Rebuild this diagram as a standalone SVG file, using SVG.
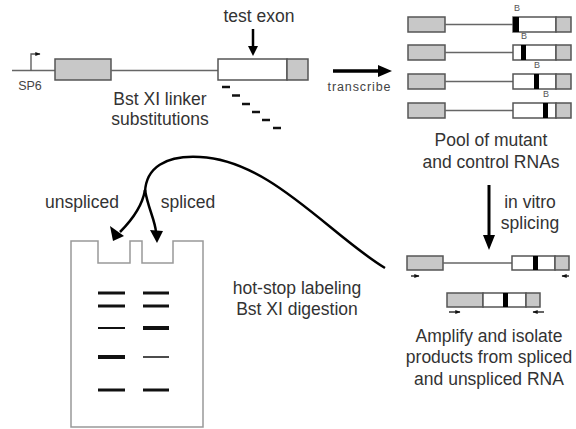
<svg xmlns="http://www.w3.org/2000/svg" width="576" height="429" viewBox="0 0 576 429">
<defs>
<style>
.t{font-family:"Liberation Sans",Arial,sans-serif;font-size:17.5px;fill:#333;text-anchor:middle}
.s{font-family:"Liberation Sans",Arial,sans-serif;font-size:12.5px;fill:#444;text-anchor:middle}
.b{font-family:"Liberation Sans",Arial,sans-serif;font-size:9px;fill:#555;text-anchor:middle}
.g{fill:#c8c8c8;stroke:#555;stroke-width:1.5}
.w{fill:#fff;stroke:#555;stroke-width:1.5}
.ln{stroke:#666;stroke-width:1.5;fill:none}
.bar{fill:#000}
.dash{stroke:#111;stroke-width:2.5}
.band{stroke:#111}
.gel{fill:#fff;stroke:#999;stroke-width:1.5}
.curve{fill:none;stroke:#000;stroke-width:2.5}
</style>
<marker id="sa" viewBox="0 0 10 10" refX="9" refY="5" markerWidth="4" markerHeight="4" orient="auto" markerUnits="strokeWidth">
<path d="M0,1 L10,5 L0,9 z" fill="#111"/>
</marker>
</defs>
<rect width="576" height="429" fill="#fff"/>

<g id="construct">
<line class="ln" x1="12" y1="70.5" x2="55" y2="70.5"/>
<path d="M31,70.5 V54 H40" fill="none" stroke="#555" stroke-width="1.3" marker-end="url(#sa)"/>
<text class="s" x="30" y="90">SP6</text>
<rect class="g" x="55" y="59" width="56" height="21"/>
<line class="ln" x1="111" y1="70.5" x2="218" y2="70.5"/>
<rect class="w" x="218" y="59" width="69" height="21"/>
<rect class="g" x="287" y="59" width="21" height="21"/>
<text class="t" x="259" y="22">test exon</text>
<line x1="253" y1="29" x2="253" y2="48" stroke="#000" stroke-width="2.5"/>
<path d="M248,46 L258,46 L253,56 z" fill="#000"/>
<line class="dash" x1="222" y1="87" x2="230" y2="87"/>
<line class="dash" x1="232" y1="95.5" x2="240" y2="95.5"/>
<line class="dash" x1="242" y1="104" x2="250" y2="104"/>
<line class="dash" x1="252" y1="112" x2="260" y2="112"/>
<line class="dash" x1="262" y1="120" x2="270" y2="120"/>
<line class="dash" x1="273" y1="128" x2="281" y2="128"/>
<text class="t" x="160" y="105">Bst XI linker</text>
<text class="t" x="160" y="125">substitutions</text>
</g>

<g id="transcribe">
<line x1="333" y1="71" x2="380" y2="71" stroke="#000" stroke-width="3.5"/>
<path d="M378,65 L392,71 L378,77 z" fill="#000"/>
<text class="s" x="359" y="91" textLength="63" lengthAdjust="spacing">transcribe</text>
</g>

<g id="pool">
<rect class="g" x="408" y="17" width="37" height="15"/>
<line class="ln" x1="445" y1="24.5" x2="513" y2="24.5"/>
<rect class="w" x="513" y="17" width="43" height="15"/>
<rect class="g" x="556" y="17" width="15" height="15"/>
<rect class="bar" x="513" y="17" width="6" height="15"/>
<text class="b" x="517" y="11">B</text>

<rect class="g" x="408" y="45" width="37" height="15"/>
<line class="ln" x1="445" y1="52.5" x2="513" y2="52.5"/>
<rect class="w" x="513" y="45" width="43" height="15"/>
<rect class="g" x="556" y="45" width="15" height="15"/>
<rect class="bar" x="521" y="45" width="5" height="15"/>
<text class="b" x="524" y="39">B</text>

<rect class="g" x="408" y="74" width="37" height="15"/>
<line class="ln" x1="445" y1="81.5" x2="513" y2="81.5"/>
<rect class="w" x="513" y="74" width="43" height="15"/>
<rect class="g" x="556" y="74" width="15" height="15"/>
<rect class="bar" x="534" y="74" width="5" height="15"/>
<text class="b" x="537" y="68">B</text>

<rect class="g" x="408" y="103" width="37" height="15"/>
<line class="ln" x1="445" y1="110.5" x2="513" y2="110.5"/>
<rect class="w" x="513" y="103" width="43" height="15"/>
<rect class="g" x="556" y="103" width="15" height="15"/>
<rect class="bar" x="543" y="103" width="5" height="15"/>
<text class="b" x="546" y="97">B</text>

<text class="t" x="491" y="146">Pool of mutant</text>
<text class="t" x="491" y="168">and control RNAs</text>
</g>

<g id="splicing">
<line x1="489" y1="185" x2="489" y2="238" stroke="#000" stroke-width="3"/>
<path d="M483,235 L495,235 L489,250 z" fill="#000"/>
<text class="t" x="530" y="208">in vitro</text>
<text class="t" x="530" y="229">splicing</text>
</g>

<g id="products">
<rect class="g" x="407" y="256" width="36" height="14"/>
<line class="ln" x1="443" y1="263" x2="512" y2="263"/>
<rect class="w" x="512" y="256" width="43" height="14"/>
<rect class="g" x="555" y="256" width="14" height="14"/>
<rect class="bar" x="533" y="256" width="5" height="14"/>
<line x1="411" y1="276" x2="419" y2="276" stroke="#111" stroke-width="1.3" marker-end="url(#sa)"/>
<line x1="569" y1="276" x2="562" y2="276" stroke="#111" stroke-width="1.3" marker-end="url(#sa)"/>

<rect class="g" x="447" y="293" width="36" height="14"/>
<rect class="w" x="483" y="293" width="43" height="14"/>
<rect class="g" x="526" y="293" width="14" height="14"/>
<rect class="bar" x="503" y="293" width="5" height="14"/>
<line x1="449" y1="312" x2="460" y2="312" stroke="#111" stroke-width="1.3" marker-end="url(#sa)"/>
<line x1="544" y1="312" x2="533" y2="312" stroke="#111" stroke-width="1.3" marker-end="url(#sa)"/>

<text class="t" x="489" y="342">Amplify and isolate</text>
<text class="t" x="489" y="363">products from spliced</text>
<text class="t" x="489" y="385">and unspliced RNA</text>
</g>

<g id="gel">
<path class="gel" d="M71,241 H98 V263 H130 V241 H142 V263 H173 V241 H203 V427 H71 Z"/>
<line class="band" x1="98" y1="293" x2="125" y2="293" stroke-width="3"/>
<line class="band" x1="98" y1="306" x2="125" y2="306" stroke-width="3"/>
<line class="band" x1="98" y1="328" x2="125" y2="328" stroke-width="2" stroke="#555"/>
<line class="band" x1="98" y1="357" x2="125" y2="357" stroke-width="4"/>
<line class="band" x1="98" y1="390" x2="125" y2="390" stroke-width="3"/>
<line class="band" x1="143" y1="293" x2="169" y2="293" stroke-width="3"/>
<line class="band" x1="143" y1="306" x2="169" y2="306" stroke-width="3"/>
<line class="band" x1="143" y1="328" x2="169" y2="328" stroke-width="4"/>
<line class="band" x1="143" y1="357" x2="169" y2="357" stroke-width="1.5" stroke="#888"/>
<line class="band" x1="143" y1="390" x2="169" y2="390" stroke-width="3"/>
</g>

<g id="connectors">
<path class="curve" d="M385,268 C330,235 270,160 200,157 C165,155 146,168 145,192"/>
<path class="curve" d="M145,190 C142,208 130,222 120,232"/>
<path d="M110,226 L124,236 L113,241 z" fill="#000"/>
<path class="curve" d="M145,190 C148,208 155,220 156,232"/>
<path d="M150,230 L163,231 L157,243 z" fill="#000"/>
</g>

<g id="labels">
<text class="t" x="82" y="208">unspliced</text>
<text class="t" x="188" y="208">spliced</text>
<text class="t" x="297" y="294">hot-stop labeling</text>
<text class="t" x="297" y="315">Bst XI digestion</text>
</g>
</svg>
